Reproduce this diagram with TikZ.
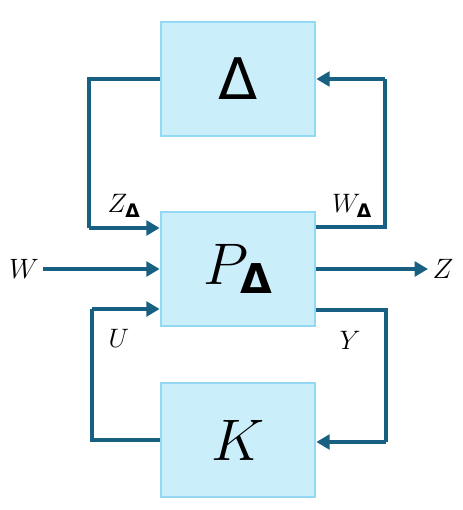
\RequirePackage{fix-cm}
\documentclass[tikz,border=0pt]{standalone}
\usepackage{fontspec}
\newfontfamily\dvfont{DejaVu Sans}
\newcommand{\Dl}{\text{\dvfont\bfseries Δ}}
\usepackage{amsmath}
\usetikzlibrary{arrows.meta}
\definecolor{wire}{RGB}{24,96,130}
\definecolor{boxfill}{RGB}{203,238,251}
\definecolor{boxline}{RGB}{148,217,243}
\begin{document}
\begin{tikzpicture}[x=0.75pt,y=-0.75pt,
  blk/.style={draw=boxline,fill=boxfill,line width=1.5pt,minimum width=116pt,minimum height=85pt,inner sep=0pt,font=\fontsize{44}{50}\selectfont},
  sig/.style={draw=wire,line width=3pt,line join=miter},
  arr/.style={sig,-{Triangle[length=10pt,width=11pt]}},
  lbl/.style={inner sep=0pt,font=\fontsize{21}{24}\selectfont},
  slbl/.style={inner sep=0pt,font=\fontsize{20}{24}\selectfont}]
\useasboundingbox (0,0) rectangle (463,510);
\node[blk] (D) at (238,79) {\fontsize{43}{46}\selectfont\dvfont Δ};
\node[blk] (P) at (238,269) {$P_{\Dl}$};
\node[blk] (K) at (238,440) {$K$};
% Delta loop
\coordinate (dl) at (89,79);
\coordinate (pl1) at (89,228);
\coordinate (dr) at (385,79);
\coordinate (pr1) at (385,227);
\draw[sig] (D.west |- dl) -- (dl) -- (pl1);
\draw[arr] (pl1) -- (P.west |- pl1);
\draw[sig] (P.east |- pr1) -- (pr1) -- (dr);
\draw[arr] (dr) -- (D.east |- dr);
% W and Z
\node[lbl] (W) at (24,269) {$W$};
\node[lbl] (Z) at (443,269) {$Z$};
\coordinate (ws) at (43,269);
\coordinate (ze) at (428,269);
\draw[arr] (ws) -- (P.west |- ws);
\draw[arr] (P.east |- ze) -- (ze);
% K loop
\coordinate (kl) at (92,440);
\coordinate (pl2) at (92,309);
\coordinate (kr) at (386,442);
\coordinate (pr2) at (386,310);
\draw[sig] (K.west |- kl) -- (kl) -- (pl2);
\draw[arr] (pl2) -- (P.west |- pl2);
\draw[sig] (P.east |- pr2) -- (pr2) -- (kr);
\draw[arr] (kr) -- (K.east |- kr);
% labels
\node[slbl] (zd) at (124,206) {$Z_{\Dl}$};
\node[slbl] (wd) at (352,206) {$W_{\Dl}$};
\node[slbl] (u) at (119,338) {$U$};
\node[slbl] (y) at (350,340) {$Y$};
\end{tikzpicture}
\end{document}
